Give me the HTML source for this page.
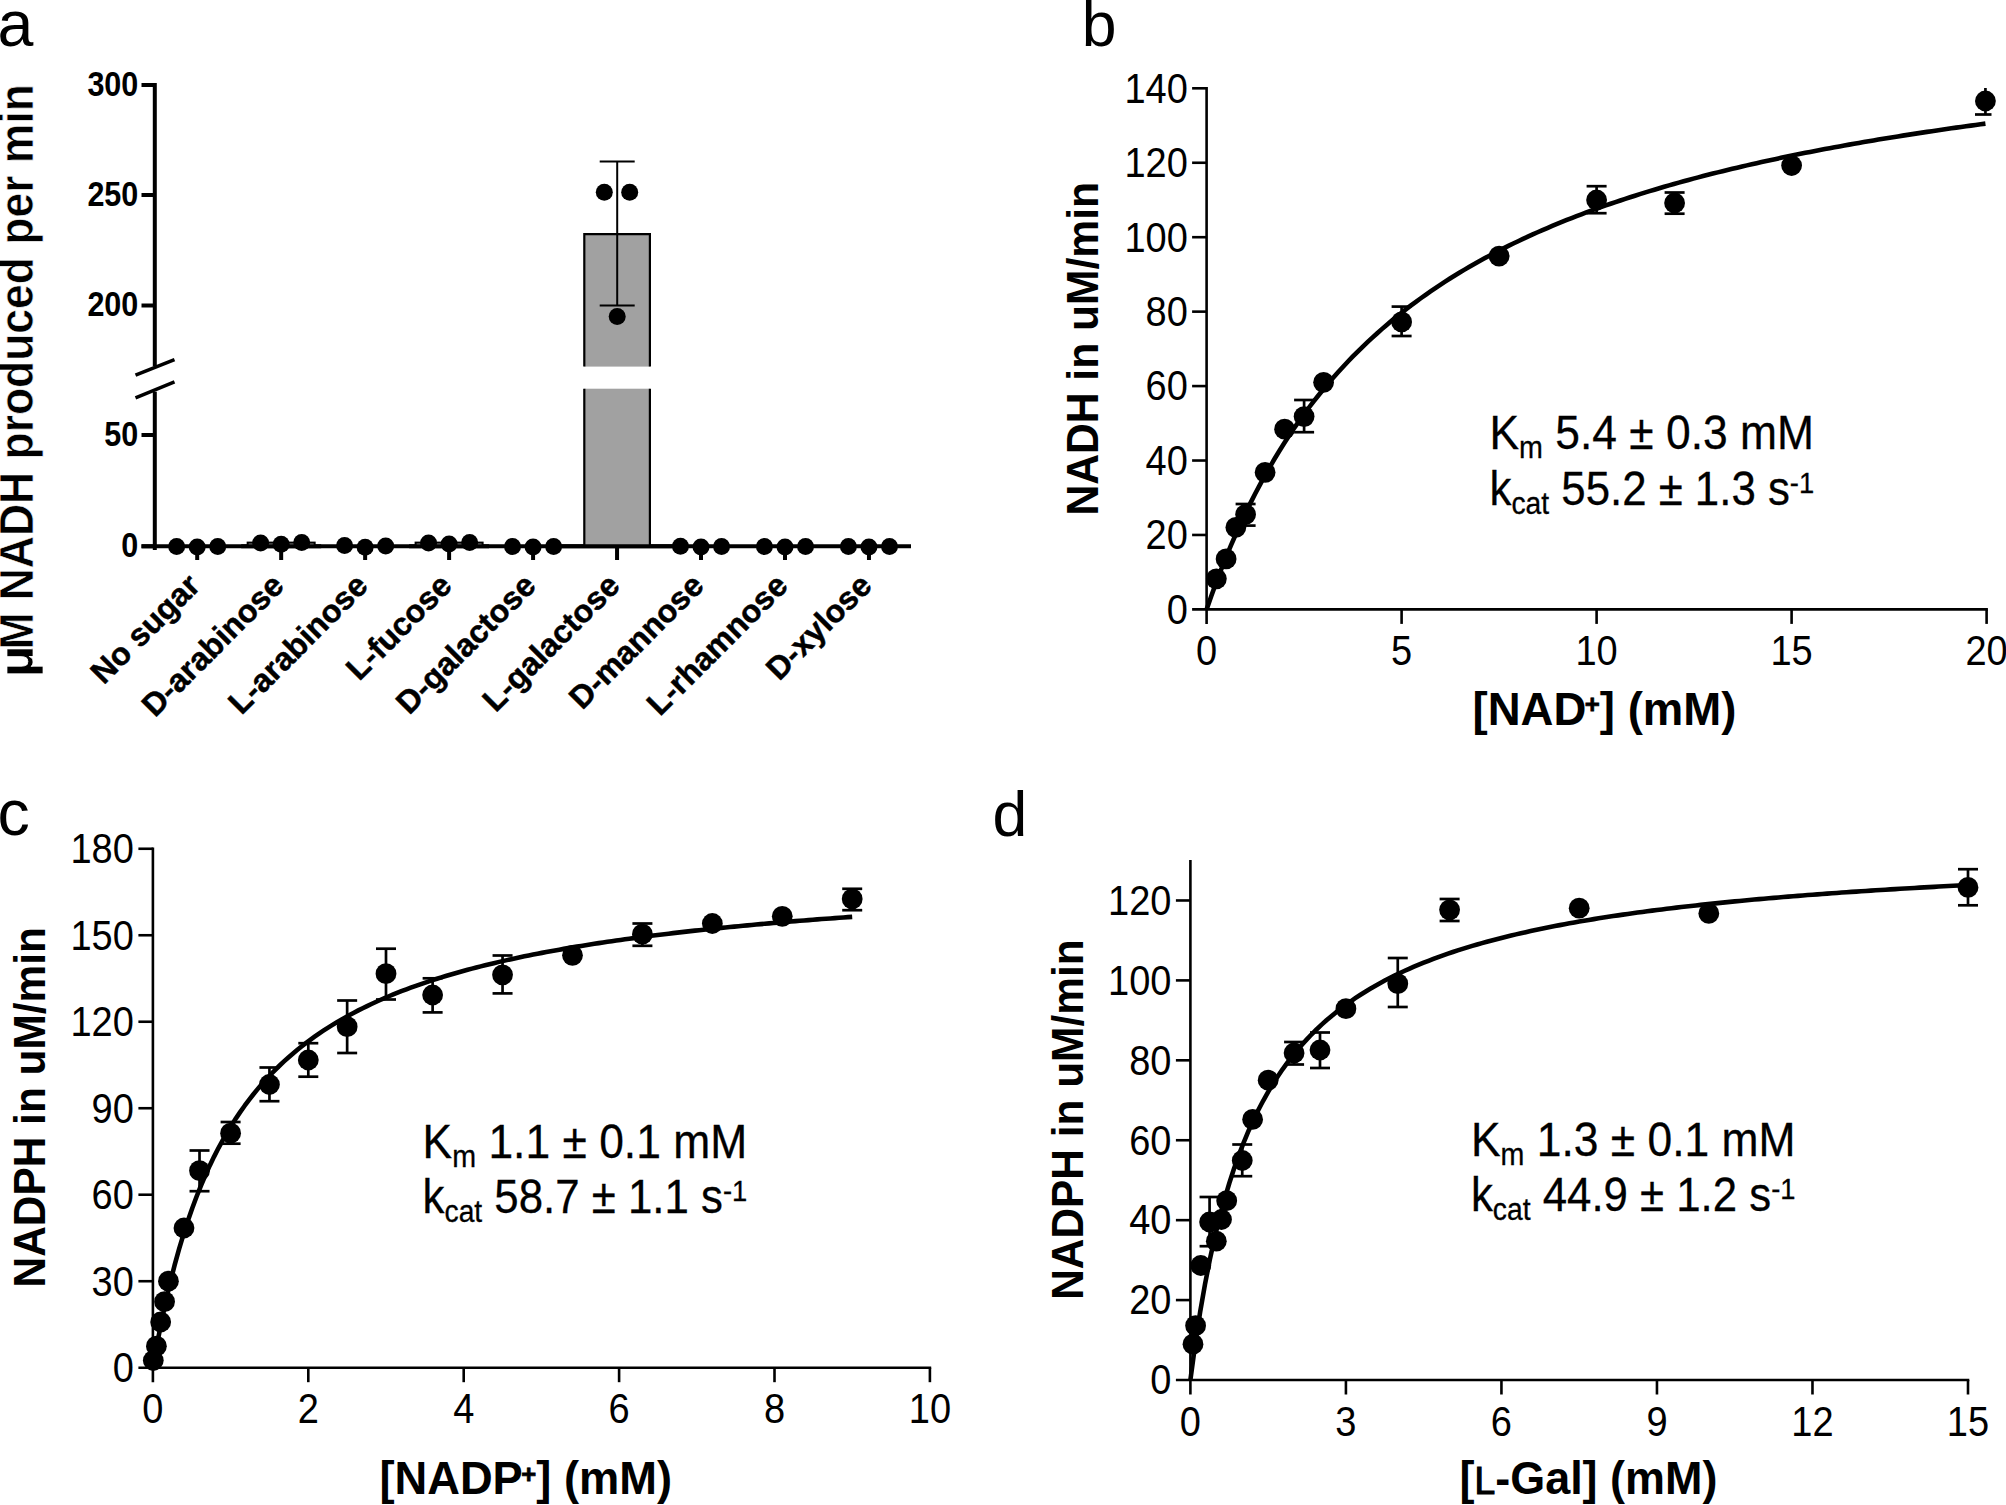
<!DOCTYPE html>
<html lang="en"><head><meta charset="utf-8"><title>Figure</title>
<style>html,body{margin:0;padding:0;background:#fff;}body{width:2006px;height:1505px;overflow:hidden;}svg{display:block;}text{font-family:"Liberation Sans",Arial,Helvetica,sans-serif;fill:#000;}</style>
</head><body>
<svg width="2006" height="1505" viewBox="0 0 2006 1505">
<rect width="2006" height="1505" fill="#fff"/>
<g id="panel-a">
<text x="-2.6" y="46" font-size="64.5" font-weight="normal" text-anchor="start">a</text>
<line x1="154.8" y1="83" x2="154.8" y2="366" stroke="#000" stroke-width="4" stroke-linecap="butt"/>
<line x1="154.8" y1="391.8" x2="154.8" y2="550" stroke="#000" stroke-width="4" stroke-linecap="butt"/>
<line x1="135.5" y1="375.2" x2="174.5" y2="359.7" stroke="#000" stroke-width="3.6" stroke-linecap="butt"/>
<line x1="135.5" y1="397.8" x2="174.5" y2="381.8" stroke="#000" stroke-width="3.6" stroke-linecap="butt"/>
<line x1="141.5" y1="85" x2="154.8" y2="85" stroke="#000" stroke-width="4" stroke-linecap="butt"/>
<text transform="translate(138.3,95.9) scale(0.848,1)" font-size="36" font-weight="bold" text-anchor="end">300</text>
<line x1="141.5" y1="195" x2="154.8" y2="195" stroke="#000" stroke-width="4" stroke-linecap="butt"/>
<text transform="translate(138.3,205.9) scale(0.848,1)" font-size="36" font-weight="bold" text-anchor="end">250</text>
<line x1="141.5" y1="305.5" x2="154.8" y2="305.5" stroke="#000" stroke-width="4" stroke-linecap="butt"/>
<text transform="translate(138.3,316.4) scale(0.848,1)" font-size="36" font-weight="bold" text-anchor="end">200</text>
<line x1="141.5" y1="435" x2="154.8" y2="435" stroke="#000" stroke-width="4" stroke-linecap="butt"/>
<text transform="translate(138.3,445.9) scale(0.848,1)" font-size="36" font-weight="bold" text-anchor="end">50</text>
<line x1="141.5" y1="546.3" x2="154.8" y2="546.3" stroke="#000" stroke-width="4" stroke-linecap="butt"/>
<text transform="translate(138.3,557.2) scale(0.848,1)" font-size="36" font-weight="bold" text-anchor="end">0</text>
<line x1="141.5" y1="546.3" x2="911" y2="546.3" stroke="#000" stroke-width="4" stroke-linecap="butt"/>
<line x1="197.2" y1="546.3" x2="197.2" y2="560" stroke="#000" stroke-width="4" stroke-linecap="butt"/>
<line x1="281.17" y1="546.3" x2="281.17" y2="560" stroke="#000" stroke-width="4" stroke-linecap="butt"/>
<line x1="365.14" y1="546.3" x2="365.14" y2="560" stroke="#000" stroke-width="4" stroke-linecap="butt"/>
<line x1="449.11" y1="546.3" x2="449.11" y2="560" stroke="#000" stroke-width="4" stroke-linecap="butt"/>
<line x1="533.08" y1="546.3" x2="533.08" y2="560" stroke="#000" stroke-width="4" stroke-linecap="butt"/>
<line x1="617.05" y1="546.3" x2="617.05" y2="560" stroke="#000" stroke-width="4" stroke-linecap="butt"/>
<line x1="701.02" y1="546.3" x2="701.02" y2="560" stroke="#000" stroke-width="4" stroke-linecap="butt"/>
<line x1="784.99" y1="546.3" x2="784.99" y2="560" stroke="#000" stroke-width="4" stroke-linecap="butt"/>
<line x1="868.96" y1="546.3" x2="868.96" y2="560" stroke="#000" stroke-width="4" stroke-linecap="butt"/>
<rect x="584.3" y="234.2" width="65.6" height="132.4" fill="#a1a1a1"/>
<rect x="584.3" y="388.7" width="65.6" height="157.6" fill="#a1a1a1"/>
<path d="M584.3 366.6V234.2H649.9V366.6M584.3 388.7V546.3M649.9 388.7V546.3" fill="none" stroke="#000" stroke-width="2.2"/>
<rect x="247.67" y="542.6" width="67" height="4" fill="#a1a1a1" stroke="#000" stroke-width="2"/>
<rect x="415.61" y="542.6" width="67" height="4" fill="#a1a1a1" stroke="#000" stroke-width="2"/>
<line x1="560" y1="546.3" x2="680" y2="546.3" stroke="#000" stroke-width="4" stroke-linecap="butt"/>
<line x1="241.17" y1="546.3" x2="321.17" y2="546.3" stroke="#000" stroke-width="4" stroke-linecap="butt"/>
<line x1="409.11" y1="546.3" x2="489.11" y2="546.3" stroke="#000" stroke-width="4" stroke-linecap="butt"/>
<line x1="617.2" y1="161.5" x2="617.2" y2="305.4" stroke="#000" stroke-width="2" stroke-linecap="butt"/>
<line x1="599.7" y1="161.5" x2="634.7" y2="161.5" stroke="#000" stroke-width="2" stroke-linecap="butt"/>
<line x1="599.7" y1="305.4" x2="634.7" y2="305.4" stroke="#000" stroke-width="2" stroke-linecap="butt"/>
<circle cx="604.3" cy="192.2" r="8.5"/>
<circle cx="629.7" cy="192.2" r="8.5"/>
<circle cx="617.2" cy="316.4" r="8.5"/>
<circle cx="176.65" cy="546.5" r="8.5"/>
<circle cx="197.2" cy="546.9" r="8.5"/>
<circle cx="217.75" cy="546.5" r="8.5"/>
<circle cx="260.62" cy="542.9" r="8.5"/>
<circle cx="281.17" cy="544.3" r="8.5"/>
<circle cx="301.72" cy="542.5" r="8.5"/>
<circle cx="344.59" cy="545.5" r="8.5"/>
<circle cx="365.14" cy="547.3" r="8.5"/>
<circle cx="385.69" cy="545.9" r="8.5"/>
<circle cx="428.56" cy="542.9" r="8.5"/>
<circle cx="449.11" cy="543.9" r="8.5"/>
<circle cx="469.66" cy="542.5" r="8.5"/>
<circle cx="512.53" cy="546.5" r="8.5"/>
<circle cx="533.08" cy="546.9" r="8.5"/>
<circle cx="553.63" cy="546.5" r="8.5"/>
<circle cx="680.47" cy="546.3" r="8.5"/>
<circle cx="701.02" cy="547" r="8.5"/>
<circle cx="721.57" cy="546.5" r="8.5"/>
<circle cx="764.44" cy="546.5" r="8.5"/>
<circle cx="784.99" cy="547" r="8.5"/>
<circle cx="805.54" cy="546.5" r="8.5"/>
<circle cx="848.41" cy="546.5" r="8.5"/>
<circle cx="868.96" cy="547" r="8.5"/>
<circle cx="889.51" cy="546.5" r="8.5"/>
<text transform="translate(201.7,587.5) rotate(-45)" font-size="32" font-weight="bold" text-anchor="end" stroke="#000" stroke-width="0.5">No sugar</text>
<text transform="translate(285.67,587.5) rotate(-45)" font-size="32" font-weight="bold" text-anchor="end" stroke="#000" stroke-width="0.5">D-arabinose</text>
<text transform="translate(369.64,587.5) rotate(-45)" font-size="32" font-weight="bold" text-anchor="end" stroke="#000" stroke-width="0.5">L-arabinose</text>
<text transform="translate(453.61,587.5) rotate(-45)" font-size="32" font-weight="bold" text-anchor="end" stroke="#000" stroke-width="0.5">L-fucose</text>
<text transform="translate(537.58,587.5) rotate(-45)" font-size="32" font-weight="bold" text-anchor="end" stroke="#000" stroke-width="0.5">D-galactose</text>
<text transform="translate(621.55,587.5) rotate(-45)" font-size="32" font-weight="bold" text-anchor="end" stroke="#000" stroke-width="0.5">L-galactose</text>
<text transform="translate(705.52,587.5) rotate(-45)" font-size="32" font-weight="bold" text-anchor="end" stroke="#000" stroke-width="0.5">D-mannose</text>
<text transform="translate(789.49,587.5) rotate(-45)" font-size="32" font-weight="bold" text-anchor="end" stroke="#000" stroke-width="0.5">L-rhamnose</text>
<text transform="translate(873.46,587.5) rotate(-45)" font-size="32" font-weight="bold" text-anchor="end" stroke="#000" stroke-width="0.5">D-xylose</text>
<text transform="translate(33,677.6) rotate(-90) scale(1.16,1)" font-size="48" font-weight="bold" stroke="#fff" stroke-width="0.6">µ</text>
<text transform="translate(33,649.6) rotate(-90)" font-size="48" font-weight="bold" stroke="#fff" stroke-width="0.6" textLength="565.4" lengthAdjust="spacingAndGlyphs">M NADH produced per min</text>
</g>
<g id="panel-b">
<text x="1081.7" y="46" font-size="62.5" font-weight="normal" text-anchor="start">b</text>
<line x1="1206.6" y1="87.1" x2="1206.6" y2="623.9" stroke="#000" stroke-width="2.6" stroke-linecap="butt"/>
<line x1="1192.1" y1="609.4" x2="1987.9" y2="609.4" stroke="#000" stroke-width="2.6" stroke-linecap="butt"/>
<text transform="translate(1187.9,623.7) scale(0.884,1)" font-size="43" font-weight="normal" text-anchor="end">0</text>
<line x1="1192.1" y1="534.96" x2="1206.6" y2="534.96" stroke="#000" stroke-width="2.6" stroke-linecap="butt"/>
<text transform="translate(1187.9,549.26) scale(0.884,1)" font-size="43" font-weight="normal" text-anchor="end">20</text>
<line x1="1192.1" y1="460.52" x2="1206.6" y2="460.52" stroke="#000" stroke-width="2.6" stroke-linecap="butt"/>
<text transform="translate(1187.9,474.82) scale(0.884,1)" font-size="43" font-weight="normal" text-anchor="end">40</text>
<line x1="1192.1" y1="386.08" x2="1206.6" y2="386.08" stroke="#000" stroke-width="2.6" stroke-linecap="butt"/>
<text transform="translate(1187.9,400.38) scale(0.884,1)" font-size="43" font-weight="normal" text-anchor="end">60</text>
<line x1="1192.1" y1="311.64" x2="1206.6" y2="311.64" stroke="#000" stroke-width="2.6" stroke-linecap="butt"/>
<text transform="translate(1187.9,325.94) scale(0.884,1)" font-size="43" font-weight="normal" text-anchor="end">80</text>
<line x1="1192.1" y1="237.2" x2="1206.6" y2="237.2" stroke="#000" stroke-width="2.6" stroke-linecap="butt"/>
<text transform="translate(1187.9,251.5) scale(0.884,1)" font-size="43" font-weight="normal" text-anchor="end">100</text>
<line x1="1192.1" y1="162.76" x2="1206.6" y2="162.76" stroke="#000" stroke-width="2.6" stroke-linecap="butt"/>
<text transform="translate(1187.9,177.06) scale(0.884,1)" font-size="43" font-weight="normal" text-anchor="end">120</text>
<line x1="1192.1" y1="88.32" x2="1206.6" y2="88.32" stroke="#000" stroke-width="2.6" stroke-linecap="butt"/>
<text transform="translate(1187.9,102.62) scale(0.884,1)" font-size="43" font-weight="normal" text-anchor="end">140</text>
<text transform="translate(1206.6,665.1) scale(0.905,1)" font-size="42" font-weight="normal" text-anchor="middle">0</text>
<line x1="1401.6" y1="609.4" x2="1401.6" y2="623.9" stroke="#000" stroke-width="2.6" stroke-linecap="butt"/>
<text transform="translate(1401.6,665.1) scale(0.905,1)" font-size="42" font-weight="normal" text-anchor="middle">5</text>
<line x1="1596.6" y1="609.4" x2="1596.6" y2="623.9" stroke="#000" stroke-width="2.6" stroke-linecap="butt"/>
<text transform="translate(1596.6,665.1) scale(0.905,1)" font-size="42" font-weight="normal" text-anchor="middle">10</text>
<line x1="1791.6" y1="609.4" x2="1791.6" y2="623.9" stroke="#000" stroke-width="2.6" stroke-linecap="butt"/>
<text transform="translate(1791.6,665.1) scale(0.905,1)" font-size="42" font-weight="normal" text-anchor="middle">15</text>
<line x1="1986.6" y1="609.4" x2="1986.6" y2="623.9" stroke="#000" stroke-width="2.6" stroke-linecap="butt"/>
<text transform="translate(1986.6,665.1) scale(0.905,1)" font-size="42" font-weight="normal" text-anchor="middle">20</text>
<path d="M1206.6 609.4L1211.47 595.46L1216.34 582.13L1221.2 569.38L1226.07 557.17L1230.94 545.47L1235.81 534.24L1240.67 523.46L1245.54 513.1L1250.41 503.13L1255.28 493.54L1260.14 484.31L1265.01 475.4L1269.88 466.82L1274.75 458.53L1279.62 450.53L1284.48 442.8L1289.35 435.32L1294.22 428.09L1299.09 421.09L1303.95 414.31L1308.82 407.75L1313.69 401.38L1318.56 395.21L1323.42 389.22L1328.29 383.4L1333.16 377.76L1338.03 372.27L1342.9 366.94L1347.76 361.75L1352.63 356.71L1357.5 351.8L1362.37 347.03L1367.23 342.38L1372.1 337.85L1376.97 333.43L1381.84 329.13L1386.7 324.93L1391.57 320.84L1396.44 316.84L1401.31 312.94L1406.18 309.14L1411.04 305.42L1415.91 301.79L1420.78 298.25L1425.65 294.78L1430.51 291.39L1435.38 288.08L1440.25 284.84L1445.12 281.67L1449.98 278.56L1454.85 275.53L1459.72 272.55L1464.59 269.64L1469.46 266.79L1474.32 264L1479.19 261.26L1484.06 258.58L1488.93 255.95L1493.79 253.37L1498.66 250.84L1503.53 248.36L1508.4 245.93L1513.26 243.54L1518.13 241.2L1523 238.9L1527.87 236.64L1532.74 234.43L1537.6 232.25L1542.47 230.11L1547.34 228.02L1552.21 225.95L1557.07 223.92L1561.94 221.93L1566.81 219.97L1571.68 218.05L1576.54 216.16L1581.41 214.29L1586.28 212.46L1591.15 210.66L1596.01 208.89L1600.88 207.15L1605.75 205.43L1610.62 203.75L1615.49 202.08L1620.35 200.45L1625.22 198.84L1630.09 197.25L1634.96 195.69L1639.82 194.15L1644.69 192.64L1649.56 191.15L1654.43 189.68L1659.29 188.23L1664.16 186.8L1669.03 185.39L1673.9 184.01L1678.77 182.64L1683.63 181.29L1688.5 179.96L1693.37 178.65L1698.24 177.36L1703.1 176.09L1707.97 174.83L1712.84 173.59L1717.71 172.37L1722.57 171.16L1727.44 169.97L1732.31 168.8L1737.18 167.64L1742.05 166.49L1746.91 165.37L1751.78 164.25L1756.65 163.15L1761.52 162.06L1766.38 160.99L1771.25 159.93L1776.12 158.89L1780.99 157.85L1785.85 156.83L1790.72 155.82L1795.59 154.83L1800.46 153.85L1805.33 152.87L1810.19 151.91L1815.06 150.97L1819.93 150.03L1824.8 149.1L1829.66 148.19L1834.53 147.28L1839.4 146.39L1844.27 145.5L1849.13 144.63L1854 143.76L1858.87 142.91L1863.74 142.06L1868.61 141.23L1873.47 140.4L1878.34 139.59L1883.21 138.78L1888.08 137.98L1892.94 137.19L1897.81 136.41L1902.68 135.63L1907.55 134.87L1912.41 134.11L1917.28 133.36L1922.15 132.62L1927.02 131.88L1931.89 131.16L1936.75 130.44L1941.62 129.73L1946.49 129.03L1951.36 128.33L1956.22 127.64L1961.09 126.96L1965.96 126.28L1970.83 125.61L1975.69 124.95L1980.56 124.29L1985.43 123.64" fill="none" stroke="#000" stroke-width="4.6" stroke-linejoin="round"/>
<circle cx="1216.35" cy="578.8" r="10.4"/>
<circle cx="1226.1" cy="558.9" r="10.4"/>
<circle cx="1235.85" cy="527.4" r="10.4"/>
<line x1="1245.6" y1="504" x2="1245.6" y2="525.6" stroke="#000" stroke-width="2.7" stroke-linecap="butt"/>
<line x1="1235.6" y1="504" x2="1255.6" y2="504" stroke="#000" stroke-width="2.7" stroke-linecap="butt"/>
<line x1="1235.6" y1="525.6" x2="1255.6" y2="525.6" stroke="#000" stroke-width="2.7" stroke-linecap="butt"/>
<circle cx="1245.6" cy="514.5" r="10.4"/>
<circle cx="1265.1" cy="472.4" r="10.4"/>
<circle cx="1284.6" cy="429.2" r="10.4"/>
<line x1="1304.1" y1="400" x2="1304.1" y2="432.2" stroke="#000" stroke-width="2.7" stroke-linecap="butt"/>
<line x1="1294.1" y1="400" x2="1314.1" y2="400" stroke="#000" stroke-width="2.7" stroke-linecap="butt"/>
<line x1="1294.1" y1="432.2" x2="1314.1" y2="432.2" stroke="#000" stroke-width="2.7" stroke-linecap="butt"/>
<circle cx="1304.1" cy="416.6" r="10.4"/>
<circle cx="1323.6" cy="382.3" r="10.4"/>
<line x1="1401.6" y1="306.6" x2="1401.6" y2="336" stroke="#000" stroke-width="2.7" stroke-linecap="butt"/>
<line x1="1391.6" y1="306.6" x2="1411.6" y2="306.6" stroke="#000" stroke-width="2.7" stroke-linecap="butt"/>
<line x1="1391.6" y1="336" x2="1411.6" y2="336" stroke="#000" stroke-width="2.7" stroke-linecap="butt"/>
<circle cx="1401.6" cy="321.9" r="10.4"/>
<circle cx="1499.1" cy="256.2" r="10.4"/>
<line x1="1596.6" y1="186.2" x2="1596.6" y2="213.2" stroke="#000" stroke-width="2.7" stroke-linecap="butt"/>
<line x1="1586.6" y1="186.2" x2="1606.6" y2="186.2" stroke="#000" stroke-width="2.7" stroke-linecap="butt"/>
<line x1="1586.6" y1="213.2" x2="1606.6" y2="213.2" stroke="#000" stroke-width="2.7" stroke-linecap="butt"/>
<circle cx="1596.6" cy="200" r="10.4"/>
<line x1="1674.6" y1="192.5" x2="1674.6" y2="213.7" stroke="#000" stroke-width="2.7" stroke-linecap="butt"/>
<line x1="1664.6" y1="192.5" x2="1684.6" y2="192.5" stroke="#000" stroke-width="2.7" stroke-linecap="butt"/>
<line x1="1664.6" y1="213.7" x2="1684.6" y2="213.7" stroke="#000" stroke-width="2.7" stroke-linecap="butt"/>
<circle cx="1674.6" cy="203" r="10.4"/>
<circle cx="1791.6" cy="165.5" r="10.4"/>
<line x1="1985.43" y1="88" x2="1985.43" y2="114.5" stroke="#000" stroke-width="2.7" stroke-linecap="butt"/>
<line x1="1975" y1="114.5" x2="1991.5" y2="114.5" stroke="#000" stroke-width="2.7" stroke-linecap="butt"/>
<circle cx="1985.43" cy="101" r="10.4"/>
<text transform="translate(1098.3,515.5) rotate(-90)" font-size="45" font-weight="bold" textLength="333.5" lengthAdjust="spacingAndGlyphs">NADH in uM/min</text>
<text transform="translate(1489.5,449.4) scale(0.925,1)" font-size="48" stroke="#000" stroke-width="0.3">K<tspan font-size="31" dy="9">m</tspan><tspan dy="-9"> 5.4 ± 0.3 mM</tspan></text>
<text transform="translate(1489.5,504.5) scale(0.9125,1)" font-size="48" stroke="#000" stroke-width="0.3">k<tspan font-size="31" dy="9">cat</tspan><tspan dy="-9"> 55.2 ± 1.3 s</tspan><tspan font-size="30" dy="-12">-1</tspan></text>
<text transform="translate(1472.5,724.6) scale(0.99,1)" font-size="46" font-weight="bold">[NAD<tspan font-size="26" dy="-11.5" dx="-1.5" stroke="#000" stroke-width="0.8">+</tspan><tspan dy="11.5">] (mM)</tspan></text>
</g>
<g id="panel-c">
<text x="-2.4" y="834.6" font-size="64.5" font-weight="normal" text-anchor="start">c</text>
<line x1="152.9" y1="847.6" x2="152.9" y2="1382.2" stroke="#000" stroke-width="2.6" stroke-linecap="butt"/>
<line x1="138.4" y1="1367.7" x2="931.2" y2="1367.7" stroke="#000" stroke-width="2.6" stroke-linecap="butt"/>
<text transform="translate(133.9,1382) scale(0.884,1)" font-size="43" font-weight="normal" text-anchor="end">0</text>
<line x1="138.4" y1="1281.21" x2="152.9" y2="1281.21" stroke="#000" stroke-width="2.6" stroke-linecap="butt"/>
<text transform="translate(133.9,1295.51) scale(0.884,1)" font-size="43" font-weight="normal" text-anchor="end">30</text>
<line x1="138.4" y1="1194.72" x2="152.9" y2="1194.72" stroke="#000" stroke-width="2.6" stroke-linecap="butt"/>
<text transform="translate(133.9,1209.02) scale(0.884,1)" font-size="43" font-weight="normal" text-anchor="end">60</text>
<line x1="138.4" y1="1108.23" x2="152.9" y2="1108.23" stroke="#000" stroke-width="2.6" stroke-linecap="butt"/>
<text transform="translate(133.9,1122.53) scale(0.884,1)" font-size="43" font-weight="normal" text-anchor="end">90</text>
<line x1="138.4" y1="1021.74" x2="152.9" y2="1021.74" stroke="#000" stroke-width="2.6" stroke-linecap="butt"/>
<text transform="translate(133.9,1036.04) scale(0.884,1)" font-size="43" font-weight="normal" text-anchor="end">120</text>
<line x1="138.4" y1="935.25" x2="152.9" y2="935.25" stroke="#000" stroke-width="2.6" stroke-linecap="butt"/>
<text transform="translate(133.9,949.55) scale(0.884,1)" font-size="43" font-weight="normal" text-anchor="end">150</text>
<line x1="138.4" y1="848.76" x2="152.9" y2="848.76" stroke="#000" stroke-width="2.6" stroke-linecap="butt"/>
<text transform="translate(133.9,863.06) scale(0.884,1)" font-size="43" font-weight="normal" text-anchor="end">180</text>
<text transform="translate(152.9,1423.4) scale(0.905,1)" font-size="42" font-weight="normal" text-anchor="middle">0</text>
<line x1="308.3" y1="1367.7" x2="308.3" y2="1382.2" stroke="#000" stroke-width="2.6" stroke-linecap="butt"/>
<text transform="translate(308.3,1423.4) scale(0.905,1)" font-size="42" font-weight="normal" text-anchor="middle">2</text>
<line x1="463.7" y1="1367.7" x2="463.7" y2="1382.2" stroke="#000" stroke-width="2.6" stroke-linecap="butt"/>
<text transform="translate(463.7,1423.4) scale(0.905,1)" font-size="42" font-weight="normal" text-anchor="middle">4</text>
<line x1="619.1" y1="1367.7" x2="619.1" y2="1382.2" stroke="#000" stroke-width="2.6" stroke-linecap="butt"/>
<text transform="translate(619.1,1423.4) scale(0.905,1)" font-size="42" font-weight="normal" text-anchor="middle">6</text>
<line x1="774.5" y1="1367.7" x2="774.5" y2="1382.2" stroke="#000" stroke-width="2.6" stroke-linecap="butt"/>
<text transform="translate(774.5,1423.4) scale(0.905,1)" font-size="42" font-weight="normal" text-anchor="middle">8</text>
<line x1="929.9" y1="1367.7" x2="929.9" y2="1382.2" stroke="#000" stroke-width="2.6" stroke-linecap="butt"/>
<text transform="translate(929.9,1423.4) scale(0.905,1)" font-size="42" font-weight="normal" text-anchor="middle">10</text>
<path d="M152.9 1367.7L157.27 1343.09L161.64 1320.75L166.01 1300.4L170.38 1281.78L174.75 1264.68L179.12 1248.91L183.49 1234.33L187.87 1220.81L192.24 1208.23L196.61 1196.51L200.98 1185.55L205.35 1175.29L209.72 1165.66L214.09 1156.6L218.46 1148.07L222.83 1140.02L227.2 1132.4L231.57 1125.2L235.94 1118.36L240.31 1111.87L244.68 1105.71L249.05 1099.84L253.42 1094.24L257.8 1088.9L262.17 1083.8L266.54 1078.93L270.91 1074.26L275.28 1069.79L279.65 1065.51L284.02 1061.4L288.39 1057.45L292.76 1053.65L297.13 1050L301.5 1046.48L305.87 1043.1L310.24 1039.83L314.61 1036.68L318.98 1033.64L323.35 1030.71L327.73 1027.87L332.1 1025.13L336.47 1022.47L340.84 1019.9L345.21 1017.42L349.58 1015L353.95 1012.67L358.32 1010.4L362.69 1008.2L367.06 1006.06L371.43 1003.99L375.8 1001.97L380.17 1000.01L384.54 998.1L388.91 996.25L393.28 994.45L397.65 992.69L402.03 990.98L406.4 989.31L410.77 987.69L415.14 986.11L419.51 984.56L423.88 983.06L428.25 981.59L432.62 980.15L436.99 978.75L441.36 977.38L445.73 976.05L450.1 974.74L454.47 973.47L458.84 972.22L463.21 971L467.59 969.8L471.96 968.64L476.33 967.49L480.7 966.38L485.07 965.28L489.44 964.21L493.81 963.16L498.18 962.13L502.55 961.12L506.92 960.13L511.29 959.16L515.66 958.21L520.03 957.28L524.4 956.37L528.77 955.47L533.14 954.59L537.51 953.73L541.89 952.88L546.26 952.05L550.63 951.23L555 950.43L559.37 949.64L563.74 948.87L568.11 948.11L572.48 947.36L576.85 946.62L581.22 945.9L585.59 945.19L589.96 944.49L594.33 943.81L598.7 943.13L603.07 942.47L607.45 941.81L611.82 941.17L616.19 940.54L620.56 939.92L624.93 939.3L629.3 938.7L633.67 938.11L638.04 937.52L642.41 936.94L646.78 936.38L651.15 935.82L655.52 935.27L659.89 934.73L664.26 934.19L668.63 933.66L673 933.14L677.38 932.63L681.75 932.13L686.12 931.63L690.49 931.14L694.86 930.66L699.23 930.18L703.6 929.71L707.97 929.25L712.34 928.79L716.71 928.34L721.08 927.89L725.45 927.45L729.82 927.02L734.19 926.59L738.56 926.17L742.93 925.75L747.31 925.34L751.68 924.93L756.05 924.53L760.42 924.14L764.79 923.75L769.16 923.36L773.53 922.98L777.9 922.6L782.27 922.23L786.64 921.86L791.01 921.5L795.38 921.14L799.75 920.79L804.12 920.43L808.49 920.09L812.86 919.75L817.24 919.41L821.61 919.07L825.98 918.74L830.35 918.42L834.72 918.09L839.09 917.78L843.46 917.46L847.83 917.15L852.2 916.84" fill="none" stroke="#000" stroke-width="4.6" stroke-linejoin="round"/>
<circle cx="153.29" cy="1360.5" r="10.4"/>
<circle cx="156.4" cy="1346.2" r="10.4"/>
<circle cx="160.67" cy="1322" r="10.4"/>
<circle cx="164.56" cy="1301.7" r="10.4"/>
<circle cx="168.44" cy="1281.2" r="10.4"/>
<circle cx="183.98" cy="1228" r="10.4"/>
<line x1="199.52" y1="1150.5" x2="199.52" y2="1191.2" stroke="#000" stroke-width="2.7" stroke-linecap="butt"/>
<line x1="189.52" y1="1150.5" x2="209.52" y2="1150.5" stroke="#000" stroke-width="2.7" stroke-linecap="butt"/>
<line x1="189.52" y1="1191.2" x2="209.52" y2="1191.2" stroke="#000" stroke-width="2.7" stroke-linecap="butt"/>
<circle cx="199.52" cy="1170.7" r="10.4"/>
<line x1="230.6" y1="1122" x2="230.6" y2="1143.7" stroke="#000" stroke-width="2.7" stroke-linecap="butt"/>
<line x1="220.6" y1="1122" x2="240.6" y2="1122" stroke="#000" stroke-width="2.7" stroke-linecap="butt"/>
<line x1="220.6" y1="1143.7" x2="240.6" y2="1143.7" stroke="#000" stroke-width="2.7" stroke-linecap="butt"/>
<circle cx="230.6" cy="1133.2" r="10.4"/>
<line x1="269.45" y1="1067.5" x2="269.45" y2="1101.2" stroke="#000" stroke-width="2.7" stroke-linecap="butt"/>
<line x1="259.45" y1="1067.5" x2="279.45" y2="1067.5" stroke="#000" stroke-width="2.7" stroke-linecap="butt"/>
<line x1="259.45" y1="1101.2" x2="279.45" y2="1101.2" stroke="#000" stroke-width="2.7" stroke-linecap="butt"/>
<circle cx="269.45" cy="1084.5" r="10.4"/>
<line x1="308.3" y1="1043.2" x2="308.3" y2="1076.7" stroke="#000" stroke-width="2.7" stroke-linecap="butt"/>
<line x1="298.3" y1="1043.2" x2="318.3" y2="1043.2" stroke="#000" stroke-width="2.7" stroke-linecap="butt"/>
<line x1="298.3" y1="1076.7" x2="318.3" y2="1076.7" stroke="#000" stroke-width="2.7" stroke-linecap="butt"/>
<circle cx="308.3" cy="1060" r="10.4"/>
<line x1="347.15" y1="1000.5" x2="347.15" y2="1053" stroke="#000" stroke-width="2.7" stroke-linecap="butt"/>
<line x1="337.15" y1="1000.5" x2="357.15" y2="1000.5" stroke="#000" stroke-width="2.7" stroke-linecap="butt"/>
<line x1="337.15" y1="1053" x2="357.15" y2="1053" stroke="#000" stroke-width="2.7" stroke-linecap="butt"/>
<circle cx="347.15" cy="1026.7" r="10.4"/>
<line x1="386" y1="948.7" x2="386" y2="999.5" stroke="#000" stroke-width="2.7" stroke-linecap="butt"/>
<line x1="376" y1="948.7" x2="396" y2="948.7" stroke="#000" stroke-width="2.7" stroke-linecap="butt"/>
<line x1="376" y1="999.5" x2="396" y2="999.5" stroke="#000" stroke-width="2.7" stroke-linecap="butt"/>
<circle cx="386" cy="973.7" r="10.4"/>
<line x1="432.62" y1="978.3" x2="432.62" y2="1012.4" stroke="#000" stroke-width="2.7" stroke-linecap="butt"/>
<line x1="422.62" y1="978.3" x2="442.62" y2="978.3" stroke="#000" stroke-width="2.7" stroke-linecap="butt"/>
<line x1="422.62" y1="1012.4" x2="442.62" y2="1012.4" stroke="#000" stroke-width="2.7" stroke-linecap="butt"/>
<circle cx="432.62" cy="995" r="10.4"/>
<line x1="502.55" y1="955.5" x2="502.55" y2="993.4" stroke="#000" stroke-width="2.7" stroke-linecap="butt"/>
<line x1="492.55" y1="955.5" x2="512.55" y2="955.5" stroke="#000" stroke-width="2.7" stroke-linecap="butt"/>
<line x1="492.55" y1="993.4" x2="512.55" y2="993.4" stroke="#000" stroke-width="2.7" stroke-linecap="butt"/>
<circle cx="502.55" cy="974.8" r="10.4"/>
<circle cx="572.48" cy="955.3" r="10.4"/>
<line x1="642.41" y1="923.5" x2="642.41" y2="945.8" stroke="#000" stroke-width="2.7" stroke-linecap="butt"/>
<line x1="632.41" y1="923.5" x2="652.41" y2="923.5" stroke="#000" stroke-width="2.7" stroke-linecap="butt"/>
<line x1="632.41" y1="945.8" x2="652.41" y2="945.8" stroke="#000" stroke-width="2.7" stroke-linecap="butt"/>
<circle cx="642.41" cy="934.2" r="10.4"/>
<circle cx="712.34" cy="923.5" r="10.4"/>
<circle cx="782.27" cy="916.3" r="10.4"/>
<line x1="852.2" y1="888.8" x2="852.2" y2="910.2" stroke="#000" stroke-width="2.7" stroke-linecap="butt"/>
<line x1="842.2" y1="888.8" x2="862.2" y2="888.8" stroke="#000" stroke-width="2.7" stroke-linecap="butt"/>
<line x1="842.2" y1="910.2" x2="862.2" y2="910.2" stroke="#000" stroke-width="2.7" stroke-linecap="butt"/>
<circle cx="852.2" cy="898.9" r="10.4"/>
<text transform="translate(45.3,1287.5) rotate(-90)" font-size="45" font-weight="bold" textLength="360.5" lengthAdjust="spacingAndGlyphs">NADPH in uM/min</text>
<text transform="translate(422.6,1157.9) scale(0.925,1)" font-size="48" stroke="#000" stroke-width="0.3">K<tspan font-size="31" dy="9">m</tspan><tspan dy="-9"> 1.1 ± 0.1 mM</tspan></text>
<text transform="translate(422.6,1213.2) scale(0.9125,1)" font-size="48" stroke="#000" stroke-width="0.3">k<tspan font-size="31" dy="9">cat</tspan><tspan dy="-9"> 58.7 ± 1.1 s</tspan><tspan font-size="30" dy="-12">-1</tspan></text>
<text transform="translate(379.5,1494.2) scale(0.984,1)" font-size="46" font-weight="bold">[NADP<tspan font-size="26" dy="-11.5" dx="-1.5" stroke="#000" stroke-width="0.8">+</tspan><tspan dy="11.5">] (mM)</tspan></text>
</g>
<g id="panel-d">
<text x="992.5" y="835.9" font-size="62.5" font-weight="normal" text-anchor="start">d</text>
<line x1="1190.4" y1="860" x2="1190.4" y2="1394.5" stroke="#000" stroke-width="2.6" stroke-linecap="butt"/>
<line x1="1175.9" y1="1380" x2="1969.3" y2="1380" stroke="#000" stroke-width="2.6" stroke-linecap="butt"/>
<text transform="translate(1171.5,1394.3) scale(0.884,1)" font-size="43" font-weight="normal" text-anchor="end">0</text>
<line x1="1175.9" y1="1300.08" x2="1190.4" y2="1300.08" stroke="#000" stroke-width="2.6" stroke-linecap="butt"/>
<text transform="translate(1171.5,1314.38) scale(0.884,1)" font-size="43" font-weight="normal" text-anchor="end">20</text>
<line x1="1175.9" y1="1220.16" x2="1190.4" y2="1220.16" stroke="#000" stroke-width="2.6" stroke-linecap="butt"/>
<text transform="translate(1171.5,1234.46) scale(0.884,1)" font-size="43" font-weight="normal" text-anchor="end">40</text>
<line x1="1175.9" y1="1140.24" x2="1190.4" y2="1140.24" stroke="#000" stroke-width="2.6" stroke-linecap="butt"/>
<text transform="translate(1171.5,1154.54) scale(0.884,1)" font-size="43" font-weight="normal" text-anchor="end">60</text>
<line x1="1175.9" y1="1060.32" x2="1190.4" y2="1060.32" stroke="#000" stroke-width="2.6" stroke-linecap="butt"/>
<text transform="translate(1171.5,1074.62) scale(0.884,1)" font-size="43" font-weight="normal" text-anchor="end">80</text>
<line x1="1175.9" y1="980.4" x2="1190.4" y2="980.4" stroke="#000" stroke-width="2.6" stroke-linecap="butt"/>
<text transform="translate(1171.5,994.7) scale(0.884,1)" font-size="43" font-weight="normal" text-anchor="end">100</text>
<line x1="1175.9" y1="900.48" x2="1190.4" y2="900.48" stroke="#000" stroke-width="2.6" stroke-linecap="butt"/>
<text transform="translate(1171.5,914.78) scale(0.884,1)" font-size="43" font-weight="normal" text-anchor="end">120</text>
<text transform="translate(1190.4,1435.7) scale(0.905,1)" font-size="42" font-weight="normal" text-anchor="middle">0</text>
<line x1="1345.92" y1="1380" x2="1345.92" y2="1394.5" stroke="#000" stroke-width="2.6" stroke-linecap="butt"/>
<text transform="translate(1345.92,1435.7) scale(0.905,1)" font-size="42" font-weight="normal" text-anchor="middle">3</text>
<line x1="1501.44" y1="1380" x2="1501.44" y2="1394.5" stroke="#000" stroke-width="2.6" stroke-linecap="butt"/>
<text transform="translate(1501.44,1435.7) scale(0.905,1)" font-size="42" font-weight="normal" text-anchor="middle">6</text>
<line x1="1656.96" y1="1380" x2="1656.96" y2="1394.5" stroke="#000" stroke-width="2.6" stroke-linecap="butt"/>
<text transform="translate(1656.96,1435.7) scale(0.905,1)" font-size="42" font-weight="normal" text-anchor="middle">9</text>
<line x1="1812.48" y1="1380" x2="1812.48" y2="1394.5" stroke="#000" stroke-width="2.6" stroke-linecap="butt"/>
<text transform="translate(1812.48,1435.7) scale(0.905,1)" font-size="42" font-weight="normal" text-anchor="middle">12</text>
<line x1="1968" y1="1380" x2="1968" y2="1394.5" stroke="#000" stroke-width="2.6" stroke-linecap="butt"/>
<text transform="translate(1968,1435.7) scale(0.905,1)" font-size="42" font-weight="normal" text-anchor="middle">15</text>
<path d="M1190.4 1380L1195.26 1343.82L1200.12 1312.2L1204.98 1284.33L1209.84 1259.58L1214.7 1237.46L1219.56 1217.56L1224.42 1199.57L1229.28 1183.22L1234.14 1168.31L1239 1154.64L1243.86 1142.07L1248.72 1130.48L1253.58 1119.74L1258.44 1109.78L1263.3 1100.51L1268.16 1091.86L1273.02 1083.77L1277.88 1076.19L1282.74 1069.07L1287.6 1062.37L1292.46 1056.05L1297.32 1050.08L1302.18 1044.44L1307.04 1039.1L1311.9 1034.03L1316.76 1029.22L1321.62 1024.64L1326.48 1020.28L1331.34 1016.13L1336.2 1012.16L1341.06 1008.37L1345.92 1004.75L1350.78 1001.28L1355.64 997.95L1360.5 994.76L1365.36 991.7L1370.22 988.76L1375.08 985.94L1379.94 983.22L1384.8 980.6L1389.66 978.07L1394.52 975.64L1399.38 973.29L1404.24 971.03L1409.1 968.84L1413.96 966.72L1418.82 964.67L1423.68 962.69L1428.54 960.78L1433.4 958.92L1438.26 957.12L1443.12 955.37L1447.98 953.68L1452.84 952.04L1457.7 950.44L1462.56 948.89L1467.42 947.38L1472.28 945.92L1477.14 944.49L1482 943.11L1486.86 941.76L1491.72 940.45L1496.58 939.17L1501.44 937.92L1506.3 936.71L1511.16 935.52L1516.02 934.37L1520.88 933.24L1525.74 932.14L1530.6 931.07L1535.46 930.02L1540.32 929L1545.18 928L1550.04 927.02L1554.9 926.07L1559.76 925.13L1564.62 924.22L1569.48 923.33L1574.34 922.45L1579.2 921.6L1584.06 920.76L1588.92 919.94L1593.78 919.13L1598.64 918.35L1603.5 917.58L1608.36 916.82L1613.22 916.08L1618.08 915.36L1622.94 914.64L1627.8 913.95L1632.66 913.26L1637.52 912.59L1642.38 911.93L1647.24 911.28L1652.1 910.65L1656.96 910.02L1661.82 909.41L1666.68 908.81L1671.54 908.22L1676.4 907.64L1681.26 907.07L1686.12 906.51L1690.98 905.96L1695.84 905.42L1700.7 904.88L1705.56 904.36L1710.42 903.85L1715.28 903.34L1720.14 902.84L1725 902.35L1729.86 901.87L1734.72 901.39L1739.58 900.93L1744.44 900.47L1749.3 900.01L1754.16 899.57L1759.02 899.13L1763.88 898.7L1768.74 898.27L1773.6 897.85L1778.46 897.44L1783.32 897.03L1788.18 896.63L1793.04 896.24L1797.9 895.85L1802.76 895.46L1807.62 895.08L1812.48 894.71L1817.34 894.34L1822.2 893.98L1827.06 893.62L1831.92 893.27L1836.78 892.92L1841.64 892.58L1846.5 892.24L1851.36 891.9L1856.22 891.58L1861.08 891.25L1865.94 890.93L1870.8 890.61L1875.66 890.3L1880.52 889.99L1885.38 889.68L1890.24 889.38L1895.1 889.09L1899.96 888.79L1904.82 888.5L1909.68 888.22L1914.54 887.93L1919.4 887.65L1924.26 887.38L1929.12 887.1L1933.98 886.83L1938.84 886.57L1943.7 886.31L1948.56 886.05L1953.42 885.79L1958.28 885.53L1963.14 885.28L1968 885.04" fill="none" stroke="#000" stroke-width="4.6" stroke-linejoin="round"/>
<circle cx="1192.99" cy="1344.2" r="10.4"/>
<circle cx="1195.58" cy="1325.7" r="10.4"/>
<circle cx="1200.77" cy="1265.5" r="10.4"/>
<line x1="1209.58" y1="1197" x2="1209.58" y2="1246.2" stroke="#000" stroke-width="2.7" stroke-linecap="butt"/>
<line x1="1199.58" y1="1197" x2="1219.58" y2="1197" stroke="#000" stroke-width="2.7" stroke-linecap="butt"/>
<line x1="1199.58" y1="1246.2" x2="1219.58" y2="1246.2" stroke="#000" stroke-width="2.7" stroke-linecap="butt"/>
<circle cx="1209.58" cy="1222" r="10.4"/>
<circle cx="1216.32" cy="1241.2" r="10.4"/>
<circle cx="1221.5" cy="1219.5" r="10.4"/>
<circle cx="1226.69" cy="1200.7" r="10.4"/>
<line x1="1242.24" y1="1144.5" x2="1242.24" y2="1176.2" stroke="#000" stroke-width="2.7" stroke-linecap="butt"/>
<line x1="1232.24" y1="1144.5" x2="1252.24" y2="1144.5" stroke="#000" stroke-width="2.7" stroke-linecap="butt"/>
<line x1="1232.24" y1="1176.2" x2="1252.24" y2="1176.2" stroke="#000" stroke-width="2.7" stroke-linecap="butt"/>
<circle cx="1242.24" cy="1160.5" r="10.4"/>
<circle cx="1252.61" cy="1119.4" r="10.4"/>
<circle cx="1268.16" cy="1080.2" r="10.4"/>
<line x1="1294.08" y1="1042" x2="1294.08" y2="1064.5" stroke="#000" stroke-width="2.7" stroke-linecap="butt"/>
<line x1="1284.08" y1="1042" x2="1304.08" y2="1042" stroke="#000" stroke-width="2.7" stroke-linecap="butt"/>
<line x1="1284.08" y1="1064.5" x2="1304.08" y2="1064.5" stroke="#000" stroke-width="2.7" stroke-linecap="butt"/>
<circle cx="1294.08" cy="1053" r="10.4"/>
<line x1="1320" y1="1032.5" x2="1320" y2="1068" stroke="#000" stroke-width="2.7" stroke-linecap="butt"/>
<line x1="1310" y1="1032.5" x2="1330" y2="1032.5" stroke="#000" stroke-width="2.7" stroke-linecap="butt"/>
<line x1="1310" y1="1068" x2="1330" y2="1068" stroke="#000" stroke-width="2.7" stroke-linecap="butt"/>
<circle cx="1320" cy="1050" r="10.4"/>
<circle cx="1345.92" cy="1008.7" r="10.4"/>
<line x1="1397.76" y1="958" x2="1397.76" y2="1007" stroke="#000" stroke-width="2.7" stroke-linecap="butt"/>
<line x1="1387.76" y1="958" x2="1407.76" y2="958" stroke="#000" stroke-width="2.7" stroke-linecap="butt"/>
<line x1="1387.76" y1="1007" x2="1407.76" y2="1007" stroke="#000" stroke-width="2.7" stroke-linecap="butt"/>
<circle cx="1397.76" cy="983.7" r="10.4"/>
<line x1="1449.6" y1="899" x2="1449.6" y2="921" stroke="#000" stroke-width="2.7" stroke-linecap="butt"/>
<line x1="1439.6" y1="899" x2="1459.6" y2="899" stroke="#000" stroke-width="2.7" stroke-linecap="butt"/>
<line x1="1439.6" y1="921" x2="1459.6" y2="921" stroke="#000" stroke-width="2.7" stroke-linecap="butt"/>
<circle cx="1449.6" cy="909.8" r="10.4"/>
<circle cx="1579.2" cy="908.2" r="10.4"/>
<circle cx="1708.8" cy="913.4" r="10.4"/>
<line x1="1968" y1="869.2" x2="1968" y2="905.3" stroke="#000" stroke-width="2.7" stroke-linecap="butt"/>
<line x1="1958" y1="869.2" x2="1978" y2="869.2" stroke="#000" stroke-width="2.7" stroke-linecap="butt"/>
<line x1="1958" y1="905.3" x2="1978" y2="905.3" stroke="#000" stroke-width="2.7" stroke-linecap="butt"/>
<circle cx="1968" cy="887.4" r="10.4"/>
<text transform="translate(1083.2,1299.8) rotate(-90)" font-size="45" font-weight="bold" textLength="360.4" lengthAdjust="spacingAndGlyphs">NADPH in uM/min</text>
<text transform="translate(1470.9,1156.2) scale(0.925,1)" font-size="48" stroke="#000" stroke-width="0.3">K<tspan font-size="31" dy="9">m</tspan><tspan dy="-9"> 1.3 ± 0.1 mM</tspan></text>
<text transform="translate(1470.9,1211.3) scale(0.9125,1)" font-size="48" stroke="#000" stroke-width="0.3">k<tspan font-size="31" dy="9">cat</tspan><tspan dy="-9"> 44.9 ± 1.2 s</tspan><tspan font-size="30" dy="-12">-1</tspan></text>
<text transform="translate(1459.6,1494.2) scale(0.977,1)" font-size="46" font-weight="bold">[<tspan font-size="38" font-weight="normal" stroke="#000" stroke-width="1.2">L</tspan>-Gal] (mM)</text>
</g>
</svg>
</body></html>
